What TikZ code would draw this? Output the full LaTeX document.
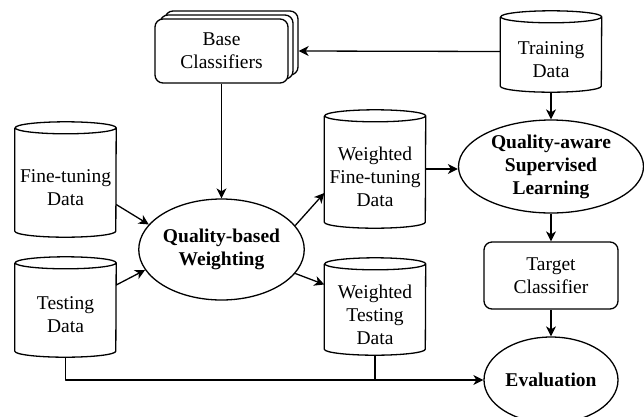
\documentclass[tikz,border=0pt]{standalone}
\usepackage{fontspec}
\setmainfont{Liberation Serif}
\usetikzlibrary{arrows.meta,shapes.geometric,shadows}

% outline of a vertical data cylinder around a (transparent) node
\newcommand\cylout[1]{%
  \draw[line] ([yshift=-6pt]#1.north west) -- ([yshift=6pt]#1.south west)
    arc[start angle=180,end angle=360,x radius=50.5pt,y radius=6pt]
    -- ([yshift=-6pt]#1.north east)
    arc[start angle=0,end angle=360,x radius=50.5pt,y radius=6pt];}

\begin{document}
\begin{tikzpicture}[x=1pt,y=-1pt,
  every node/.style={font=\fontsize{19.5}{23}\selectfont, align=center, inner sep=0pt},
  line/.style={line width=1.3pt, black, line join=round},
  arr/.style={line, -{Stealth[length=10pt,width=10pt,inset=3pt]}},
  cylbody/.style={rectangle, minimum width=101pt},
  cyltext/.style={},
  proc/.style={ellipse, draw, line width=1.3pt, font=\fontsize{19.5}{23}\selectfont\bfseries},
  box/.style={rectangle, draw, rounded corners=8pt, line width=1.3pt, fill=white},
]
\useasboundingbox (0,0) rectangle (644,416);
\clip (0,0) rectangle (644,416);

% data stores
\node[cylbody, minimum height=81pt]  (train) at (551,51.5) {};
\node[cylbody, minimum height=115pt] (ftd)   at (65.5,179.5) {};
\node[cylbody, minimum height=100pt] (td)    at (65.5,307) {};
\node[cylbody, minimum height=118pt] (wfd)   at (375,169) {};
\node[cylbody, minimum height=97pt]  (wtd)   at (375,306.5) {};
\cylout{train}\cylout{ftd}\cylout{td}\cylout{wfd}\cylout{wtd}
\node[cyltext] (train-t) at ([yshift=-8pt]train.center) {Training\\Data};
\node[cyltext] (ftd-t)   at ([yshift=-8pt]ftd.center)   {Fine-tuning\\Data};
\node[cyltext] (td-t)    at ([yshift=-8pt]td.center)    {Testing\\Data};
\node[cyltext] (wfd-t)   at ([yshift=-8pt]wfd.center)   {Weighted\\Fine-tuning\\Data};
\node[cyltext] (wtd-t)   at ([yshift=-8pt]wtd.center)   {Weighted\\Testing\\Data};

% classifiers
\node[box, minimum width=133pt, minimum height=64pt,
      double copy shadow={shadow xshift=5pt, shadow yshift=4pt}]
      (bc) at (221.5,51) {Base\\Classifiers};
\node[box, minimum width=134pt, minimum height=67pt] (tc) at (551,275.5) {Target\\Classifier};

% processes
\node[proc, minimum width=149pt, minimum height=101pt] (qbw)  at (221.5,249.5) {Quality-based\\Weighting};
\node[proc, minimum width=185pt, minimum height=93pt]  (qsl)  at (551,166.5) {Quality-aware\\Supervised\\Learning};
\node[proc, minimum width=134pt, minimum height=86pt]  (eval) at (551,380) {Evaluation};

% connectors
\draw[arr] (train.west) -- ([xshift=10pt]bc.east);
\draw[arr] (bc.south) -- (qbw.north);
\draw[arr] ([yshift=-25pt]ftd.east) -- (qbw.161);
\draw[arr] ([yshift=22pt]td.east) -- (qbw.195);
\draw[arr] (qbw.18) -- ([yshift=-24pt]wfd.west);
\draw[arr] (qbw.-18) -- ([yshift=22pt]wtd.west);
\draw[arr] (wfd.east) -- (wfd.east -| qsl.west);
\draw[arr] (train.south) -- (qsl.north);
\draw[arr] (qsl.south) -- (tc.north);
\draw[arr] (tc.south) -- (eval.north);
\draw[arr] (td.south) |- (eval.west);
\draw[line] (wtd.south) -- (wtd.south |- eval.west);
\end{tikzpicture}
\end{document}
